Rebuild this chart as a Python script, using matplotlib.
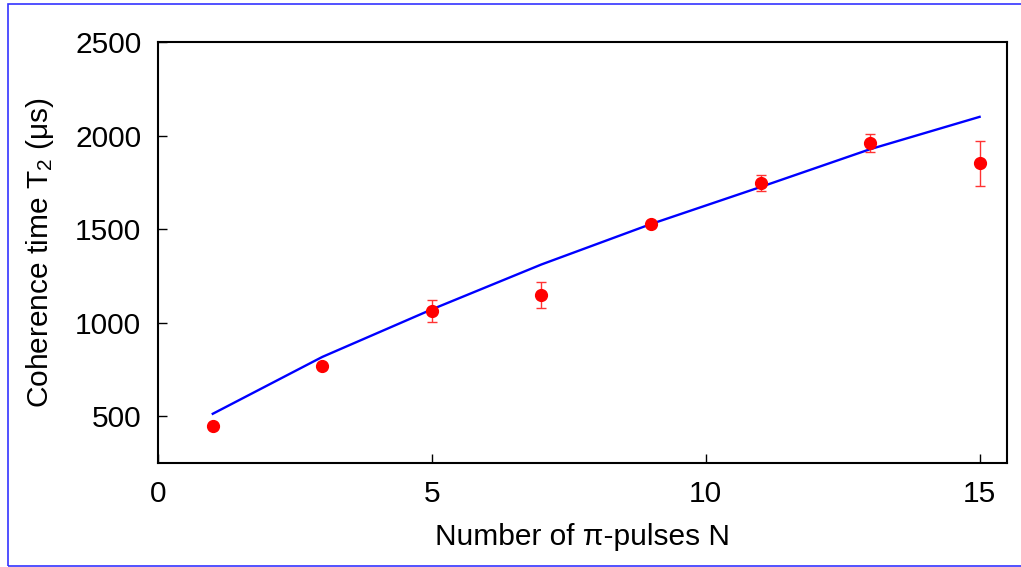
import matplotlib
matplotlib.use("Agg")
import matplotlib.pyplot as plt
from matplotlib.patches import Rectangle

# Data
N_pulses = [1, 3, 5, 7, 9, 11, 13, 15]
T2_meas = [449, 766, 1062, 1149, 1527, 1746, 1961, 1852]
T2_err = [10, 10, 58, 71, 10, 41, 49, 120]
T2_fit = [513, 817, 1071, 1311, 1527, 1725, 1927, 2100]
xticks = [0, 5, 10, 15]
yticks = [500, 1000, 1500, 2000, 2500]

plt.rcParams['font.family'] = ['Liberation Sans', 'DejaVu Sans']
plt.rcParams['mathtext.fontset'] = 'custom'
plt.rcParams['mathtext.rm'] = 'Liberation Sans'
plt.rcParams['mathtext.it'] = 'Liberation Sans:italic'

fig = plt.figure(figsize=(10.21, 5.67), dpi=100)
ax = fig.add_axes([158/1021, 1-463/567, (1007-158)/1021, (463-42)/567])

ax.plot(N_pulses, T2_fit, color='#0000ff', lw=1.7, zorder=2)
ax.errorbar(N_pulses, T2_meas, yerr=T2_err, fmt='o', color='#ff0000',
            ms=8.5, ecolor='#ff3333', elinewidth=1.0, capsize=3.5, capthick=1.0,
            zorder=3)

ax.set_xlim(0, 15.5)
ax.set_ylim(250, 2500)
ax.set_xticks(xticks)
ax.set_yticks(yticks)
ax.tick_params(direction='in', length=6.5, width=1.0, labelsize=21.5, pad=12,
               top=False, right=False)
for s in ax.spines.values():
    s.set_linewidth(1.5)

ax.set_xlabel('Number of π-pulses N', fontsize=21.5, labelpad=11)
ax.set_ylabel(r'Coherence time T$_2$ (μs)', fontsize=21.5, labelpad=14)

# blue border frame
fig.patches.append(Rectangle((8/1021, 1.5/567), 1.2, 562/567, transform=fig.transFigure,
                             fill=False, edgecolor='#3333ff', lw=1.2))

fig.savefig('out.png', dpi=100)
